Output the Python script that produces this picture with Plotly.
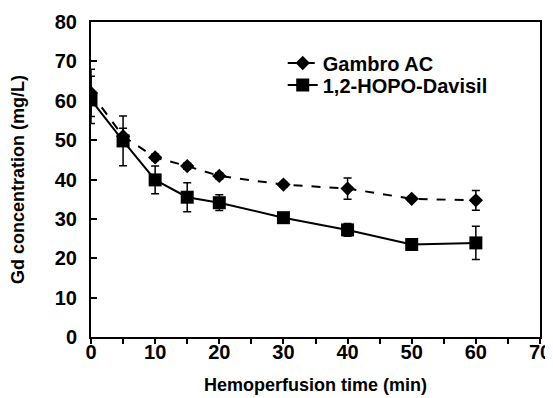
import plotly.graph_objects as go

time = [0, 5, 10, 15, 20, 30, 40, 50, 60]
gambro = [62.0, 51.0, 45.6, 43.4, 40.9, 38.7, 37.7, 35.1, 34.7]
gambro_err = [6.0, 2.0, 0.8, 0.8, 0.8, 0.6, 2.7, 0.6, 2.5]
hopo = [60.2, 49.8, 39.9, 35.5, 34.1, 30.3, 27.2, 23.5, 23.9]
hopo_err = [6.0, 6.3, 3.5, 3.7, 2.0, 0.6, 1.6, 0.8, 4.2]
x_ticks = [0, 10, 20, 30, 40, 50, 60, 70]
y_ticks = [0, 10, 20, 30, 40, 50, 60, 70, 80]

FONT = "Arial, Liberation Sans, sans-serif"

fig = go.Figure()
fig.add_trace(go.Scatter(
    x=time, y=gambro, name="Gambro AC", mode="lines+markers",
    line=dict(color="black", width=2, dash="dash"),
    marker=dict(symbol="diamond", size=11, color="black"),
    error_y=dict(type="data", array=gambro_err, color="black", thickness=1.5, width=4),
    legend="legend",
))
fig.add_trace(go.Scatter(
    x=time, y=hopo, name="1,2-HOPO-Davisil", mode="lines+markers",
    line=dict(color="black", width=2),
    marker=dict(symbol="square", size=13, color="black"),
    error_y=dict(type="data", array=hopo_err, color="black", thickness=1.5, width=4),
    legend="legend2",
))

leg_common = dict(xanchor="left", yanchor="middle", bgcolor="rgba(0,0,0,0)",
                  font=dict(size=20, weight="bold"), itemwidth=30)

# page body has an 8px margin; plot box should land at x 91-540, y 22-337
fig.update_layout(
    width=553, height=398,
    margin=dict(l=83, r=21, t=14, b=69),
    paper_bgcolor="white", plot_bgcolor="white",
    font=dict(family=FONT, color="black", size=20, weight="bold"),
    showlegend=True,
    legend=dict(x=0.427, y=(337 - 63) / 315, **leg_common),
    legend2=dict(x=0.427, y=(337 - 85) / 315, **leg_common),
    xaxis=dict(
        range=[0, 70], tickvals=x_ticks, ticks="outside", ticklen=5, tickwidth=1.5,
        tickcolor="black", showline=True, linecolor="black", linewidth=2, mirror=True,
        showgrid=False, zeroline=False, automargin=False, ticklabelstandoff=-9,
        minor=dict(ticks="outside", ticklen=5, tickwidth=1.5, tickcolor="black", dtick=5, showgrid=False),
        tickfont=dict(size=20, weight="bold"),
        title=dict(text="Hemoperfusion time (min)", font=dict(size=18, weight="bold"), standoff=16),
    ),
    yaxis=dict(
        range=[0, 80], tickvals=y_ticks, ticks="inside", ticklen=6, tickwidth=1.5,
        tickcolor="black", showline=True, linecolor="black", linewidth=2, mirror=True,
        showgrid=False, zeroline=False, ticklabelstandoff=8, automargin=False,
        tickfont=dict(size=20, weight="bold"),
        title=dict(text="Gd concentration (mg/L)", font=dict(size=18, weight="bold"), standoff=28),
    ),
)

fig.write_html("out.html")
